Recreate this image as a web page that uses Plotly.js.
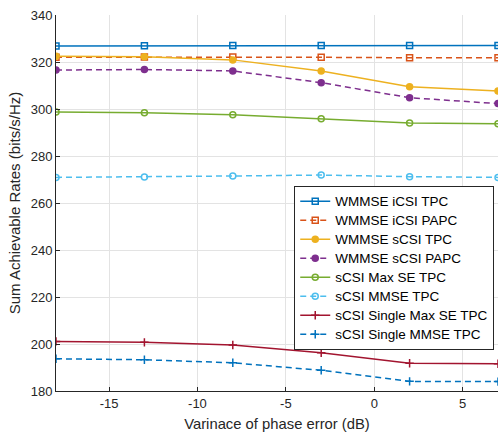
<!DOCTYPE html>
<html><head><meta charset="utf-8">
<script src="https://cdn.plot.ly/plotly-3.0.1.min.js"></script>
<style>body{margin:0;padding:0;background:#fff}#chart{width:500px;height:432px}</style>
</head><body><div id="chart"></div>
<script>
const xVals = [-18, -13, -8, -3, 2, 7];
const seriesNames = ["WMMSE iCSI TPC","WMMSE iCSI PAPC","WMMSE sCSI TPC","WMMSE sCSI PAPC","sCSI Max SE TPC","sCSI MMSE TPC","sCSI Single Max SE TPC","sCSI Single MMSE TPC"];
const wmmseICsiTpc = [326.8, 326.9, 327.0, 327.0, 327.0, 327.0];
const wmmseICsiPapc = [322.0, 322.1, 322.1, 322.0, 321.8, 321.8];
const wmmseSCsiTpc = [322.4, 322.2, 320.9, 316.2, 309.5, 307.7];
const wmmseSCsiPapc = [316.6, 316.8, 316.2, 311.2, 304.8, 302.3];
const maxSeTpc = [298.7, 298.4, 297.6, 295.9, 294.0, 293.7];
const mmseTpc = [270.9, 271.1, 271.5, 271.9, 271.2, 270.9];
const singleMaxSeTpc = [201.1, 200.7, 199.6, 196.3, 191.8, 191.6];
const singleMmseTpc = [193.7, 193.3, 192.0, 188.8, 184.1, 184.0];
const xTicks = [-15, -10, -5, 0, 5];
const xTickText = ["-15", "-10", "-5", "0", "5"];
const yTicks = [180, 200, 220, 240, 260, 280, 300, 320, 340];
const yTickText = ["180", "200", "220", "240", "260", "280", "300", "320", "340"];

const allY = [wmmseICsiTpc, wmmseICsiPapc, wmmseSCsiTpc, wmmseSCsiPapc, maxSeTpc, mmseTpc, singleMaxSeTpc, singleMmseTpc];
const colors = ["#0072BD","#D95319","#EDB120","#7E2F8E","#77AC30","#4DBEEE","#A2142F","#0072BD"];
const dashes = ["solid","6px,4px","solid","6px,4px","solid","6px,4px","solid","6px,4px"];
const symbols = ["square-open","square-open","circle","circle","circle-open","circle-open","cross-thin-open","cross-thin-open"];
const sizes = [6,6,6,6,6,6,6,6];
const FONT = 'Arial, Liberation Sans, sans-serif';

const traces = allY.map((y, i) => ({
  x: xVals, y: y, name: '<span style="font-size:13.5px">' + seriesNames[i] + '</span>',
  type: 'scatter', mode: 'lines+markers',
  line: {color: colors[i], width: 1.5, dash: dashes[i]},
  marker: {symbol: symbols[i], size: sizes[i], color: colors[i], line: {color: colors[i], width: 1.5}}
}));

const axisCommon = {
  showline: true, linecolor: '#262626', linewidth: 1, mirror: false,
  ticks: 'inside', ticklen: 4, tickcolor: '#262626',
  showgrid: true, gridcolor: '#e3e3e3', gridwidth: 1, zeroline: false,
  tickfont: {family: FONT, size: 13, color: '#262626'}
};

const layout = {
  width: 500, height: 432,
  margin: {l: 56, r: 2, t: 15, b: 41},
  paper_bgcolor: '#fff', plot_bgcolor: '#fff',
  showlegend: true,
  xaxis: Object.assign({}, axisCommon, {range: [-18, 7], tickvals: xTicks, ticktext: xTickText,
    title: {text: 'Varinace of phase error (dB)', standoff: 10, font: {family: FONT, size: 14.8, color: '#262626'}}}),
  yaxis: Object.assign({}, axisCommon, {range: [180, 340], tickvals: yTicks, ticktext: yTickText,
    title: {text: 'Sum Achievable Rates (bits/s/Hz)', standoff: 6, font: {family: FONT, size: 15, color: '#262626'}}}),
  legend: {x: 0.539, y: 0.546, xanchor: 'left', yanchor: 'top', bgcolor: '#fff', bordercolor: '#262626', borderwidth: 1,
    font: {family: FONT, size: 12.3, color: '#000'}, tracegroupgap: 0, itemwidth: 30}
};

Plotly.newPlot('chart', traces, layout, {displayModeBar: false, staticPlot: true});
</script></body></html>
